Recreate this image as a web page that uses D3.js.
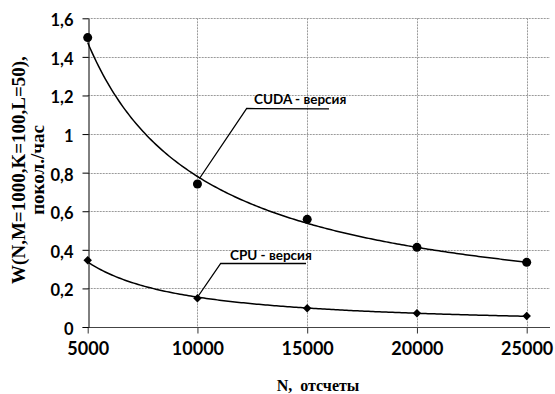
<!DOCTYPE html>
<html><head><meta charset="utf-8">
<script src="https://cdn.jsdelivr.net/npm/d3@7"></script>
<style>
html,body{margin:0;padding:0;background:#fff;}
svg{display:block;}
.tick text{font-family:Lato,"Open Sans",sans-serif;fill:#000;}
</style></head>
<body>
<svg id="chart" width="555" height="394"></svg>
<script>
// ---- data ----
const nValues = [5000, 10000, 15000, 20000, 25000];
const cudaValues = [1.5, 0.741, 0.558, 0.413, 0.335];
const cpuValues = [0.346, 0.149, 0.097, 0.071, 0.057];
const yTickValues = [0, 0.2, 0.4, 0.6, 0.8, 1.0, 1.2, 1.4, 1.6];
const yTickLabels = ["0", "0,2", "0,4", "0,6", "0,8", "1", "1,2", "1,4", "1,6"];
const xTickValues = [5000, 10000, 15000, 20000, 25000];
const xTickLabels = ["5000", "10000", "15000", "20000", "25000"];
const yTitleLines = ["W(N,M=1000,K=100,L=50),", "покол./час"];
const xTitle = "N,  отсчеты";
const cudaLabel = "CUDA - версия";
const cpuLabel = "CPU - версия";

// ---- layout ----
const svg = d3.select("#chart");
const L = 87.7, R = 526.7, T = 18.3, B = 327, gridRight = 550;
const x = d3.scaleLinear().domain([5000, 25000]).range([L, R]);
const y = d3.scaleLinear().domain([0, 1.6]).range([B, T]);

// power-law trendline (least squares in log-log space), as in the source chart
function powerFit(xs, ys) {
  const lx = xs.map(Math.log), ly = ys.map(Math.log);
  const mx = d3.mean(lx), my = d3.mean(ly);
  const b = d3.sum(lx, (v, i) => (v - mx) * (ly[i] - my)) / d3.sum(lx, v => (v - mx) * (v - mx));
  const a = Math.exp(my - b * mx);
  return xv => a * Math.pow(xv, b);
}
const cudaFit = powerFit(nValues, cudaValues);
const cpuFit = powerFit(nValues, cpuValues);
const samples = d3.range(0, 201).map(i => 5000 + i * 100);

// gridlines
const grid = svg.append("g").attr("stroke", "#9a9a9a").attr("stroke-width", 1).attr("stroke-dasharray", "2,1");
grid.selectAll("line.h").data(yTickValues.slice(1)).join("line")
  .attr("x1", L).attr("x2", gridRight)
  .attr("y1", d => Math.round(y(d)) + 0.5).attr("y2", d => Math.round(y(d)) + 0.5);
grid.selectAll("line.v").data(xTickValues.slice(1)).join("line")
  .attr("y1", T).attr("y2", B)
  .attr("x1", d => Math.round(x(d)) + 0.5).attr("x2", d => Math.round(x(d)) + 0.5);

// x axis
const xAxis = svg.append("g").attr("transform", `translate(0,${Math.round(B) + 0.5})`)
  .call(d3.axisBottom(x).tickValues(xTickValues).tickFormat((d, i) => xTickLabels[i]).tickSize(6).tickPadding(9).tickSizeOuter(0));
xAxis.select(".domain").remove();
xAxis.append("line").attr("x1", L - 5).attr("x2", gridRight).attr("stroke", "#444").attr("stroke-width", 1);
xAxis.selectAll(".tick line").attr("stroke", "#333");
xAxis.selectAll(".tick text").attr("font-size", 18).attr("font-weight", "bold");

// y axis
const yAxis = svg.append("g").attr("transform", `translate(${Math.round(L) + 0.5},0)`)
  .call(d3.axisLeft(y).tickValues(yTickValues).tickFormat((d, i) => yTickLabels[i]).tickSize(6).tickPadding(9).tickSizeOuter(0));
yAxis.select(".domain").attr("stroke", "#000");
yAxis.selectAll(".tick line").attr("stroke", "#000");
yAxis.selectAll(".tick text").attr("font-size", 16.5).attr("font-weight", "bold").attr("dy", "0.45em");

// trend lines
const line = d3.line().x(d => x(d[0])).y(d => y(d[1])).curve(d3.curveLinear);
svg.append("path").attr("d", line(samples.map(s => [s, cudaFit(s)])))
  .attr("fill", "none").attr("stroke", "#000").attr("stroke-width", 1.5);
svg.append("path").attr("d", line(samples.map(s => [s, cpuFit(s)])))
  .attr("fill", "none").attr("stroke", "#000").attr("stroke-width", 1.5);

// markers
svg.selectAll("circle.cuda").data(nValues).join("circle")
  .attr("cx", d => x(d)).attr("cy", (d, i) => y(cudaValues[i])).attr("r", 4.5).attr("fill", "#000");
svg.selectAll("path.cpu").data(nValues).join("path")
  .attr("d", d3.symbol().type(d3.symbolDiamond2).size(46))
  .attr("transform", (d, i) => `translate(${x(d)},${y(cpuValues[i])})`).attr("fill", "#000");

// annotations
const ann = svg.append("g").attr("stroke", "#000").attr("stroke-width", 1.3).attr("fill", "none");
ann.append("polyline").attr("points", `${x(10000) + 2},${y(cudaFit(10000)) + 2} 246.7,108.5 329,108.8`);
ann.append("polyline").attr("points", `${x(10000)},${y(cpuValues[1]) - 1} 220.7,263.5 306,263.5`);
svg.append("text").attr("x", 254).attr("y", 104).text(cudaLabel)
  .attr("font-family", "Lato, 'Open Sans', sans-serif").attr("font-size", 13.5).attr("font-weight", "bold");
svg.append("text").attr("x", 230).attr("y", 260).text(cpuLabel)
  .attr("font-family", "Lato, 'Open Sans', sans-serif").attr("font-size", 13.5).attr("font-weight", "bold");

// titles
svg.append("text").attr("x", 318).attr("y", 391).attr("text-anchor", "middle")
  .attr("font-family", "'Liberation Serif', 'Times New Roman', serif").attr("font-weight", "bold").attr("font-size", 16)
  .attr("xml:space", "preserve").style("white-space", "pre").text(xTitle);
const yt = svg.append("text").attr("transform", "translate(25,170) rotate(-90)").attr("text-anchor", "middle")
  .attr("font-family", "'Liberation Serif', 'Times New Roman', serif").attr("font-weight", "bold").attr("font-size", 19);
yt.append("tspan").attr("x", 0).attr("y", 0).text(yTitleLines[0]);
yt.append("tspan").attr("x", 0).attr("y", 19).text(yTitleLines[1]);
</script>
</body></html>
